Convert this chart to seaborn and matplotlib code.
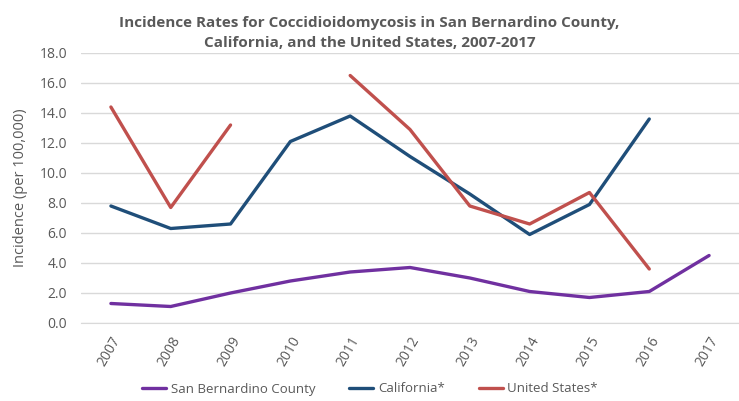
import numpy as np
import pandas as pd
import seaborn as sns
import matplotlib.pyplot as plt

years = list(range(2007, 2018))
san_bernardino = [1.3, 1.1, 2.0, 2.8, 3.4, 3.7, 3.0, 2.1, 1.7, 2.1, 4.5]
california = [7.8, 6.3, 6.6, 12.1, 13.8, 11.1, 8.6, 5.9, 7.9, 13.6, np.nan]
united_states = [14.4, 7.7, 13.2, np.nan, 16.5, 12.9, 7.8, 6.6, 8.7, 3.6, np.nan]
series_names = ["San Bernardino County", "California*", "United States*"]
colors = ["#7030A0", "#1F4E79", "#C0504D"]

# split series at gaps so missing years break the line
rows = []
for name, vals in zip(series_names, [san_bernardino, california, united_states]):
    seg = 0
    for yr, v in zip(years, vals):
        if np.isnan(v):
            seg += 1
            continue
        rows.append({"year": yr, "rate": v, "series": name, "seg": name + str(seg)})
df = pd.DataFrame(rows)

sns.set_style("white")
plt.rcParams['font.family'] = ['Open Sans', 'DejaVu Sans']

fig = plt.figure(figsize=(7.39, 4.01), dpi=100)
ax = fig.add_axes([81 / 739, 1 - 323 / 401, 658 / 739, 270 / 401])

sns.lineplot(data=df, x="year", y="rate", hue="series", units="seg", estimator=None,
             palette=dict(zip(series_names, colors)), hue_order=series_names,
             linewidth=2.4, ax=ax)

ax.set_xlim(2006.5, 2017.5)
ax.set_ylim(0, 18)
yt = np.arange(0, 18.1, 2)
ax.set_yticks(yt)
ax.set_yticklabels([f"{v:.1f}" for v in yt], fontsize=10, color="#595959")
ax.set_xticks(years)
ax.set_xticklabels([str(y) for y in years], rotation=60, ha="right", rotation_mode="anchor",
                   fontsize=10, color="#595959")
ax.tick_params(axis="y", length=0, pad=10)
ax.tick_params(axis="x", length=0, pad=8)
ax.grid(axis="y", color="#D9D9D9", linewidth=1)
ax.set_axisbelow(True)
for s in ["top", "right", "left"]:
    ax.spines[s].set_visible(False)
ax.spines["bottom"].set_color("#D9D9D9")
ax.set_xlabel("")
ax.set_ylabel("Incidence (per 100,000)", fontsize=10.5, color="#595959", labelpad=8)

ax.legend(loc="center", bbox_to_anchor=(370 / 739, 1 - 389 / 401), bbox_transform=fig.transFigure,
          ncol=3, frameon=False, fontsize=9.5, handlelength=1.8, handletextpad=0.35,
          columnspacing=2.6, labelcolor="#595959")

fig.text(0.5, 1 - 33 / 401, "Incidence Rates for Coccidioidomycosis in San Bernardino County,\n"
         "California, and the United States, 2007-2017", ha="center", va="center",
         fontsize=11, fontweight="bold", color="#595959", linespacing=1.6)

fig.savefig("out.png", dpi=100)
